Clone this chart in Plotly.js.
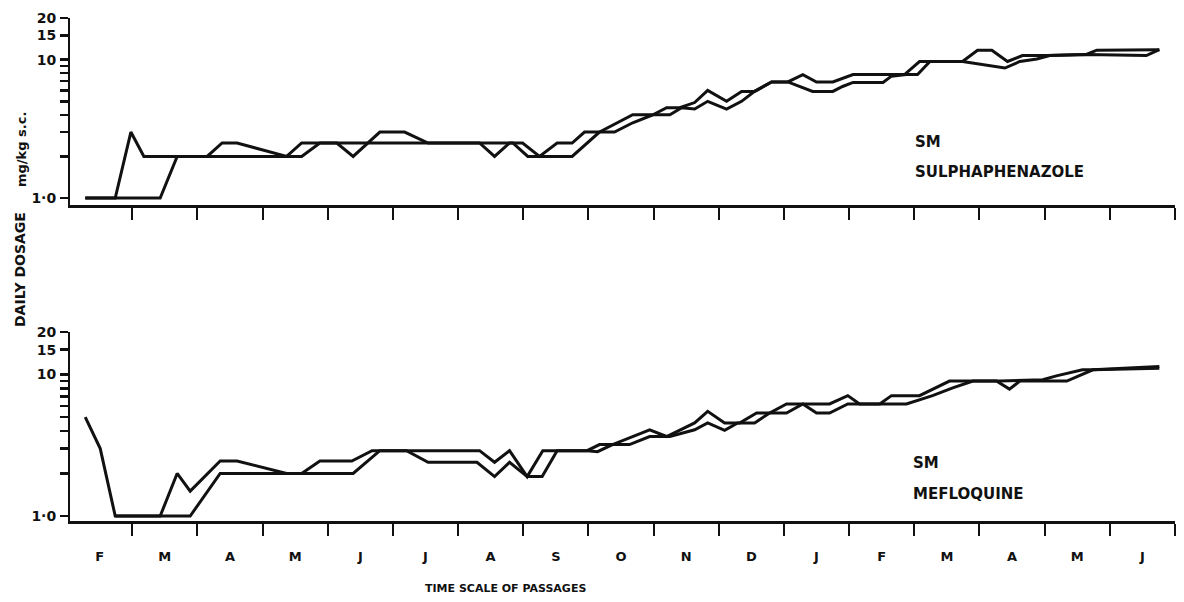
<!DOCTYPE html>
<html><head><meta charset="utf-8">
<script src="https://cdn.plot.ly/plotly-3.0.1.min.js"></script>
<style>html,body{margin:0;padding:0;background:#fff}#chart{width:1184px;height:602px}</style>
</head><body><div id="chart"></div>
<script>
// Month labels (time scale of passages), month boundaries at integer positions
const monthLabels = ['F','M','A','M','J','J','A','S','O','N','D','J','F','M','A','M','J'];
const monthCenters = monthLabels.map((m,i)=>i+0.5);
const monthBounds = monthLabels.map((m,i)=>i+1);

// Y ticks (log scale, mg/kg s.c.); unlabeled ticks at 2..9
const yTickVals = [1, 2, 3, 4, 5, 6, 7, 8, 9, 10, 15, 20];
const yTickText = ['1·0', ' ', ' ', ' ', ' ', ' ', ' ', ' ', ' ', '10', '15', '20'];

// Panel 1: SM / SULPHAPHENAZOLE (time in months, daily dosage mg/kg)
const sulphaX1 = [0.28,0.74,0.98,1.18,2.15,2.38,2.61,3.37,3.60,4.14,4.39,4.62,4.80,5.18,5.54,6.33,6.56,6.79,6.99,7.25,7.52,7.75,7.94,8.17,8.68,8.99,9.20,9.40,9.63,9.83,10.12,10.35,10.55,10.81,11.06,11.29,11.50,11.75,12.06,12.58,12.85,13.08,13.28,13.74,13.97,14.19,14.43,14.66,15.03,15.64,15.80,16.61,16.76];
const sulphaY1 = [1,1,3,2,2,2.5,2.5,2,2.5,2.5,2,2.5,3,3,2.5,2.5,2,2.5,2.5,2,2.5,2.5,3,3,4,4,4.5,4.5,4.9,6,5,5.9,5.9,6.9,6.9,7.8,6.9,6.9,7.8,7.8,7.8,9.7,9.7,9.7,11.7,11.7,9.7,10.7,10.7,10.9,11.7,11.7,11.8];
const sulphaX2 = [0.28,1.43,1.69,3.60,3.88,6.84,7.07,7.75,8.17,8.40,8.68,8.99,9.25,9.43,9.63,9.83,10.12,10.35,10.55,10.81,11.06,11.44,11.75,11.90,12.06,12.52,12.65,12.88,13.05,13.24,13.74,14.39,14.62,14.88,15.08,15.64,16.56,16.76];
const sulphaY2 = [1,1,2,2,2.5,2.5,2,2,3,3,3.5,4,4,4.5,4.4,5,4.4,5,5.9,6.9,6.9,5.9,5.9,6.4,6.85,6.85,7.6,7.8,7.8,9.7,9.7,8.7,9.7,10.1,10.7,10.9,10.7,11.8];

// Panel 2: SM / MEFLOQUINE
const mefloX1 = [0.28,0.51,0.74,1.43,1.69,1.89,2.35,2.61,3.37,3.60,3.88,4.37,4.68,6.33,6.56,6.79,7.06,7.30,7.98,8.17,8.37,8.68,8.94,9.20,9.40,9.63,9.83,10.09,10.32,10.58,10.78,11.04,11.29,11.70,11.98,12.16,12.47,12.65,13.08,13.54,13.85,14.31,14.97,15.18,15.58,15.74,16.76];
const mefloY1 = [5,3,1,1,2,1.5,2.45,2.45,2,2,2.45,2.45,2.9,2.9,2.4,2.9,1.9,2.9,2.9,3.2,3.2,3.65,4.07,3.65,4.07,4.55,5.5,4.55,4.55,5.35,5.35,6.2,6.2,6.2,7.1,6.2,6.2,7.1,7.1,9.0,9.0,9.0,9.2,9.8,10.8,10.8,11.4];
const mefloX2 = [0.74,1.89,2.35,4.39,4.80,5.21,5.54,6.29,6.56,6.79,7.06,7.29,7.52,7.98,8.14,8.37,8.63,8.94,9.25,9.63,9.83,10.09,10.29,10.55,10.78,11.04,11.29,11.50,11.70,11.98,12.47,12.88,13.28,13.59,13.90,14.26,14.46,14.62,14.97,15.34,15.74,16.76];
const mefloY2 = [1,1,2,2,2.9,2.9,2.4,2.4,1.9,2.4,1.9,1.9,2.9,2.9,2.85,3.2,3.2,3.65,3.65,4.07,4.55,4.04,4.55,4.55,5.35,5.35,6.2,5.35,5.35,6.2,6.2,6.2,7.1,8.05,9.0,9.0,7.9,9.0,9.0,9.0,10.8,11.1];

const FONT = 'DejaVu Sans';
const lineStyle = {color: '#111', width: 3};

const traces = [
  {x: sulphaX1, y: sulphaY1, xaxis: 'x', yaxis: 'y', mode: 'lines', line: lineStyle, showlegend: false, hoverinfo: 'skip'},
  {x: sulphaX2, y: sulphaY2, xaxis: 'x', yaxis: 'y', mode: 'lines', line: lineStyle, showlegend: false, hoverinfo: 'skip'},
  {x: mefloX1, y: mefloY1, xaxis: 'x2', yaxis: 'y2', mode: 'lines', line: lineStyle, showlegend: false, hoverinfo: 'skip'},
  {x: mefloX2, y: mefloY2, xaxis: 'x2', yaxis: 'y2', mode: 'lines', line: lineStyle, showlegend: false, hoverinfo: 'skip'}
];

function xAxis(anchor, showLabels) {
  return {
    anchor: anchor, domain: [70/1184, 1175/1184], range: [0.046, 17.0],
    showline: true, linewidth: 3, linecolor: '#111',
    showgrid: false, zeroline: false,
    tickmode: 'array', tickvals: monthCenters, ticktext: monthLabels,
    showticklabels: showLabels, ticks: 'outside', ticklen: 0, tickwidth: 0, tickcolor: 'rgba(0,0,0,0)',
    ticklabelstandoff: 21,
    tickfont: {family: FONT, size: 13, weight: 'bold', color: '#111'},
    minor: {tickmode: 'array', tickvals: monthBounds, ticks: 'outside', ticklen: 12, tickwidth: 2, tickcolor: '#111', showgrid: false}
  };
}
function yAxis(anchor, domain, range) {
  return {
    anchor: anchor, domain: domain, type: 'log', range: range,
    showline: true, linewidth: 2, linecolor: '#111',
    showgrid: false, zeroline: false,
    tickmode: 'array', tickvals: yTickVals, ticktext: yTickText,
    ticks: 'outside', ticklen: 8, tickwidth: 2.5, tickcolor: '#111',
    ticklabelstandoff: 1,
    tickfont: {family: FONT, size: 14, weight: 'bold', color: '#111'}
  };
}

const annFont = {family: FONT, size: 15, weight: 'bold', color: '#111'};
const layout = {
  width: 1184, height: 602,
  margin: {l: 0, r: 0, t: 0, b: 0},
  paper_bgcolor: '#fff', plot_bgcolor: '#fff',
  showlegend: false,
  xaxis: xAxis('y', false),
  yaxis: yAxis('x', [1-205/602, 1-18/602], [-0.05, Math.log10(20)]),
  xaxis2: xAxis('y2', true),
  yaxis2: yAxis('x2', [1-521/602, 1-332/602], [-0.035, Math.log10(20)]),
  annotations: [
    {text: 'SM', xref: 'paper', yref: 'paper', x: 913/1184, y: 1-142/602, xanchor: 'left', yanchor: 'middle', showarrow: false, font: annFont},
    {text: 'SULPHAPHENAZOLE', xref: 'paper', yref: 'paper', x: 913/1184, y: 1-172/602, xanchor: 'left', yanchor: 'middle', showarrow: false, font: annFont},
    {text: 'SM', xref: 'paper', yref: 'paper', x: 911/1184, y: 1-463/602, xanchor: 'left', yanchor: 'middle', showarrow: false, font: annFont},
    {text: 'MEFLOQUINE', xref: 'paper', yref: 'paper', x: 911/1184, y: 1-494/602, xanchor: 'left', yanchor: 'middle', showarrow: false, font: annFont},
    {text: 'DAILY DOSAGE', xref: 'paper', yref: 'paper', x: 20/1184, y: 1-270/602, xanchor: 'center', yanchor: 'middle', textangle: -90, showarrow: false, font: {family: FONT, size: 14, weight: 'bold', color: '#111'}},
    {text: 'mg/kg s.c.', xref: 'paper', yref: 'paper', x: 22/1184, y: 1-150/602, xanchor: 'center', yanchor: 'middle', textangle: -90, showarrow: false, font: {family: FONT, size: 13, weight: 'bold', color: '#111'}},
    {text: 'TIME SCALE OF PASSAGES', xref: 'paper', yref: 'paper', x: 505/1184, y: 1-588/602, xanchor: 'center', yanchor: 'middle', showarrow: false, font: {family: FONT, size: 11, weight: 'bold', color: '#111'}}
  ]
};

Plotly.newPlot('chart', traces, layout, {staticPlot: true, displayModeBar: false});
</script>
</body></html>
